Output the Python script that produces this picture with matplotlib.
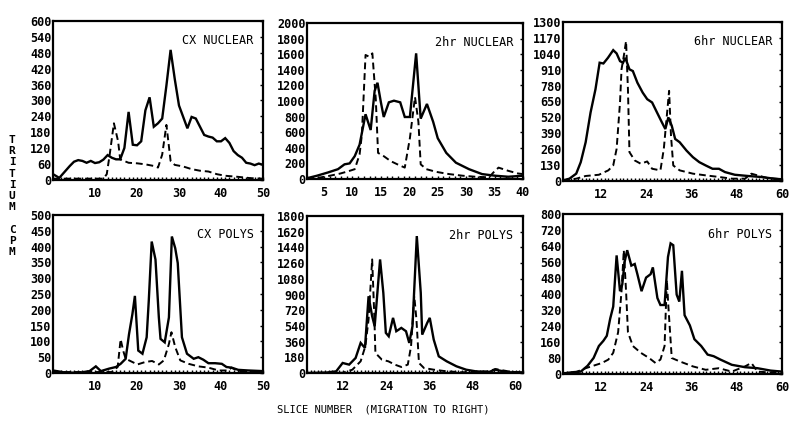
import numpy as np
import matplotlib
matplotlib.use("Agg")
import matplotlib.pyplot as plt
from matplotlib.ticker import MultipleLocator

# ---- data (slice number vs tritium cpm) ----

# CX NUCLEAR
cxNucX = [0, 1.5, 3, 4, 5, 6, 7, 8, 9, 10, 11, 12, 13, 14, 15, 16, 17, 18, 19, 20,
          21, 22, 23, 24, 25, 26, 27, 28, 29, 30, 31, 32, 33, 34, 35, 36, 37, 38, 39, 40,
          41, 42, 43, 44, 45, 46, 47, 48, 49, 50]
cxNucSolid = [22, 8, 35, 53, 69, 75, 72, 65, 72, 64, 67, 77, 94, 84, 78, 78, 121, 257, 133, 131,
              146, 263, 312, 201, 214, 232, 356, 491, 380, 281, 238, 195, 238, 232, 201, 170, 164, 160, 146, 146,
              158, 140, 109, 94, 84, 65, 62, 56, 62, 57]
cxNucDashX = [0, 12, 12.8, 13.5, 14.5, 15.5, 16, 18, 20, 22, 24, 25, 26, 27, 28, 29, 31, 33, 35, 37,
              39, 41, 44, 47, 50]
cxNucDash = [5, 5, 22, 96, 214, 146, 78, 65, 63, 59, 53, 47, 96, 208, 72, 57, 51, 41, 35, 32,
             22, 16, 12, 7, 5]

# 2hr NUCLEAR
hr2NucX = [2, 3.75, 5.7, 7.45, 8.6, 9.5, 10.4, 11.25, 12.3, 13.2, 13.9, 14.4, 15, 15.5, 16.4, 17.3,
           18.4, 19.2, 20.1, 21.2, 22, 23.1, 24.2, 25, 26.5, 28.2, 30.5, 32.8, 35.1, 37.4, 40]
hr2NucSolid = [10, 42, 84, 126, 188, 200, 293, 440, 830, 628, 1130, 1234, 983, 795, 983, 1004,
               983, 795, 795, 1611, 774, 962, 732, 523, 335, 209, 126, 63, 42, 29, 42]
hr2NucDashX = [2, 3.95, 5.9, 7.85, 9.3, 10.4, 11.25, 11.65, 12.3, 12.9, 13.5, 14.1, 14.5, 15.5, 16.7, 17.9,
               19.2, 20.1, 21, 21.6, 22, 23, 24.7, 27, 29.4, 31.6, 34, 34.8, 35.7, 37.4, 39.1, 40]
hr2NucDash = [5, 15, 40, 70, 100, 126, 314, 565, 1590, 1569, 1611, 1025, 335, 293, 230, 188,
              146, 523, 1050, 732, 188, 126, 92, 63, 42, 29, 21, 84, 146, 105, 71, 63]

# 6hr NUCLEAR
hr6NucX = [2, 3.7, 5.5, 6.7, 8, 9.3, 10.6, 11.7, 12.7, 13.9, 15.3, 16.2, 17.1, 17.9, 18.5, 19.6, 20.5, 21.7,
           23.1, 24.3, 25.6, 26.9, 28.2, 29.1, 29.9, 30.8, 31.7, 32.9, 34.7, 36.4, 38.1, 39.8, 41.6, 43.3,
           44.9, 47.5, 51, 54.4, 57.9, 60]
hr6NucSolid = [5, 19, 60, 154, 317, 560, 750, 967, 961, 1007, 1070, 1043, 980, 967, 1007, 913, 899, 804,
               723, 669, 642, 560, 479, 425, 520, 452, 344, 317, 249, 195, 154, 127, 100, 100,
               73, 51, 41, 33, 19, 14]
hr6NucDashX = [2, 5.5, 8, 11.5, 14, 15.3, 16.2, 17.1, 17.5, 18.1, 18.7, 19.2, 19.6, 21, 22.6, 24.3, 25.6,
               27.8, 28.7, 29.5, 30.1, 30.6, 31.2, 32.9, 36.4, 39.8, 43.3, 46.7, 50.2, 51.9, 53.5, 56.2, 60]
hr6NucDash = [5, 19, 41, 51, 87, 127, 263, 642, 913, 1021, 1143, 750, 236, 168, 141, 160, 100,
              87, 263, 534, 737, 371, 127, 87, 60, 46, 33, 19, 19, 60, 46, 24, 14]

# CX POLYS
cxPolX = [0, 3.1, 6.3, 8.7, 10.2, 11.4, 13.4, 15, 16.1, 17.3, 18.1, 18.9, 19.5, 20.3, 21.3, 22.3, 22.8,
          23.5, 24.4, 25.2, 25.6, 26.6, 27.6, 28.3, 29.1, 29.7, 30.7, 31.9, 33.5, 34.6, 35.8, 37, 38.6,
          40.2, 41.3, 42.5, 44.1, 46.5, 50]
cxPolSolid = [8, 1, 1, 6, 21, 6, 14, 19, 29, 45, 123, 186, 244, 71, 61, 113, 228,
              416, 359, 176, 108, 97, 176, 432, 395, 348, 113, 61, 45, 50, 42, 31, 31,
              29, 19, 17, 10, 8, 6]
cxPolDashX = [0, 14, 15.4, 16.1, 16.7, 17.3, 18.1, 20.1, 22, 23.6, 25.2, 26.4, 27.6, 28.2, 29.1, 30.3,
              32.3, 34.6, 37, 39.4, 41.7, 42.5, 44.1, 47.2, 50]
cxPolDash = [3, 3, 19, 107, 71, 45, 40, 27, 35, 38, 27, 40, 92, 129, 82, 40,
             29, 21, 17, 8, 8, 17, 6, 3, 3]

# 2hr POLYS
hr2PolX = [2, 7.4, 10.1, 11.9, 13.7, 15.5, 16.9, 18.1, 19.1, 20.1, 20.8, 22.3, 23.2, 23.9, 24.7, 25.9,
           26.8, 28.2, 29.5, 30.4, 31.3, 32.5, 33.6, 34, 35.4, 36.1, 37.2, 38.6, 40.8, 43.5, 46.2, 48.9,
           52.5, 54.3, 57.9, 62]
hr2PolSolid = [0, 5, 19, 115, 96, 172, 345, 287, 880, 651, 536, 1302, 919, 460, 421, 632,
               479, 517, 479, 345, 536, 1570, 919, 440, 575, 632, 383, 191, 134, 77, 38, 19,
               11, 38, 8, 8]
hr2PolDashX = [2, 11.9, 14.6, 16.9, 18.2, 19.1, 20.1, 20.7, 21, 22.8, 24.6, 26.4, 28.2, 30, 30.9, 31.8,
               32.4, 33.1, 34.5, 37.2, 40.8, 45.3, 52.5, 54.3, 57.9, 62]
hr2PolDash = [0, 3, 38, 134, 306, 613, 1302, 651, 230, 153, 134, 96, 69, 96, 306, 881,
              613, 115, 57, 38, 19, 8, 19, 46, 19, 3]

# 6hr POLYS
hr6PolX = [2, 4.6, 6.7, 8.5, 10.1, 11.5, 12.7, 13.6, 14.5, 15.3, 16.2, 17.1, 17.7, 18.3, 19, 20.1, 21,
           21.7, 22.8, 24, 25.2, 25.8, 27, 27.8, 28.9, 29.8, 30.5, 31.2, 32.1, 32.8, 33.5, 34.2, 35.6,
           36.8, 38.6, 40.3, 41.9, 43.7, 46.7, 50.2, 53.5, 57, 60]
hr6PolSolid = [3, 9, 12, 41, 80, 140, 166, 191, 277, 337, 593, 414, 448, 559, 619, 542, 550,
               499, 414, 482, 499, 533, 380, 345, 345, 585, 653, 644, 397, 362, 516, 294, 243,
               174, 140, 97, 89, 72, 46, 34, 29, 17, 12]
hr6PolDashX = [2, 4.6, 8, 12.3, 14, 15.3, 16.6, 17.5, 18.1, 18.7, 19.2, 20.5, 22.6, 24.8, 26.5,
               27.8, 28.9, 29.5, 29.9, 30.8, 32.9, 36.4, 39.8, 43.3, 46.7, 50.2, 51.9, 53.5, 57, 60]
hr6PolDash = [0, 3, 29, 55, 72, 106, 209, 414, 619, 414, 209, 140, 106, 80, 55,
              72, 140, 470, 340, 80, 63, 38, 21, 29, 12, 38, 55, 12, 7, 3]

panelTitles = ["CX NUCLEAR", "2hr NUCLEAR", "6hr NUCLEAR", "CX POLYS", "2hr POLYS", "6hr POLYS"]
xTickSets = [[10, 20, 30, 40, 50], [5, 10, 15, 20, 25, 30, 35, 40], [12, 24, 36, 48, 60],
             [10, 20, 30, 40, 50], [12, 24, 36, 48, 60], [12, 24, 36, 48, 60]]
yTops = [600, 2000, 1300, 500, 1800, 800]
yTickSteps = [60, 200, 130, 50, 180, 80]

# ---- layout ----
figW, figH = 790, 428
# axes boxes in pixels: left, top, right, bottom
boxes = [(53, 21, 263, 180), (307, 23, 523, 179), (563, 22, 782, 181),
         (53, 215, 263, 373), (307, 216, 523, 373), (563, 214, 782, 374)]
xLimits = [(0, 50), (2, 40), (2, 60), (0, 50), (2, 62), (2, 60)]

series = [(cxNucX, cxNucSolid, cxNucDashX, cxNucDash),
          (hr2NucX, hr2NucSolid, hr2NucDashX, hr2NucDash),
          (hr6NucX, hr6NucSolid, hr6NucDashX, hr6NucDash),
          (cxPolX, cxPolSolid, cxPolDashX, cxPolDash),
          (hr2PolX, hr2PolSolid, hr2PolDashX, hr2PolDash),
          (hr6PolX, hr6PolSolid, hr6PolDashX, hr6PolDash)]

monoFont = "DejaVu Sans Mono"

fig = plt.figure(figsize=(figW / 100, figH / 100), dpi=100)
fig.patch.set_facecolor("white")

for i in range(6):
    l, t, r, b = boxes[i]
    ax = fig.add_axes([l / figW, 1 - b / figH, (r - l) / figW, (b - t) / figH])

    xs, ys, dx, dy = series[i]
    ax.plot(xs, ys, color="black", lw=1.7, solid_joinstyle="miter")
    ax.plot(dx, dy, color="black", lw=1.4, dashes=(3.5, 2))

    ax.set_xlim(*xLimits[i])
    ax.set_ylim(0, yTops[i])
    ax.set_xticks(xTickSets[i])
    ax.set_yticks(np.arange(0, yTops[i] + 1, yTickSteps[i]))
    ax.xaxis.set_minor_locator(MultipleLocator(1))

    # plotter style: labels hug the box, little marks along bottom and right edge
    ax.tick_params(axis="x", which="major", direction="in", length=2, width=1, pad=5,
                   labelsize=8.5)
    ax.tick_params(axis="x", which="minor", direction="in", length=2, width=1)
    ax.tick_params(axis="y", left=False, right=True, direction="in", length=2, width=1,
                   pad=1, labelsize=8.5)
    for lab in ax.get_xticklabels() + ax.get_yticklabels():
        lab.set_fontfamily(monoFont)
        lab.set_fontweight("bold")

    for sp in ax.spines.values():
        sp.set_linewidth(1.6)

    ax.text(0.955, 0.875, panelTitles[i], transform=ax.transAxes, ha="right", va="center",
            fontsize=8.5, family=monoFont)

# stacked y label and bottom caption
fig.text(12 / figW, 1 - 196 / figH, "T\nR\nI\nT\nI\nU\nM\n \nC\nP\nM", ha="center", va="center",
         fontsize=8, family=monoFont, fontweight="bold", linespacing=1.15)
fig.text(383 / figW, 1 - 410 / figH, "SLICE NUMBER  (MIGRATION TO RIGHT)", ha="center",
         va="center", fontsize=7.5, family=monoFont)

fig.savefig("out.png", dpi=100, facecolor="white")
